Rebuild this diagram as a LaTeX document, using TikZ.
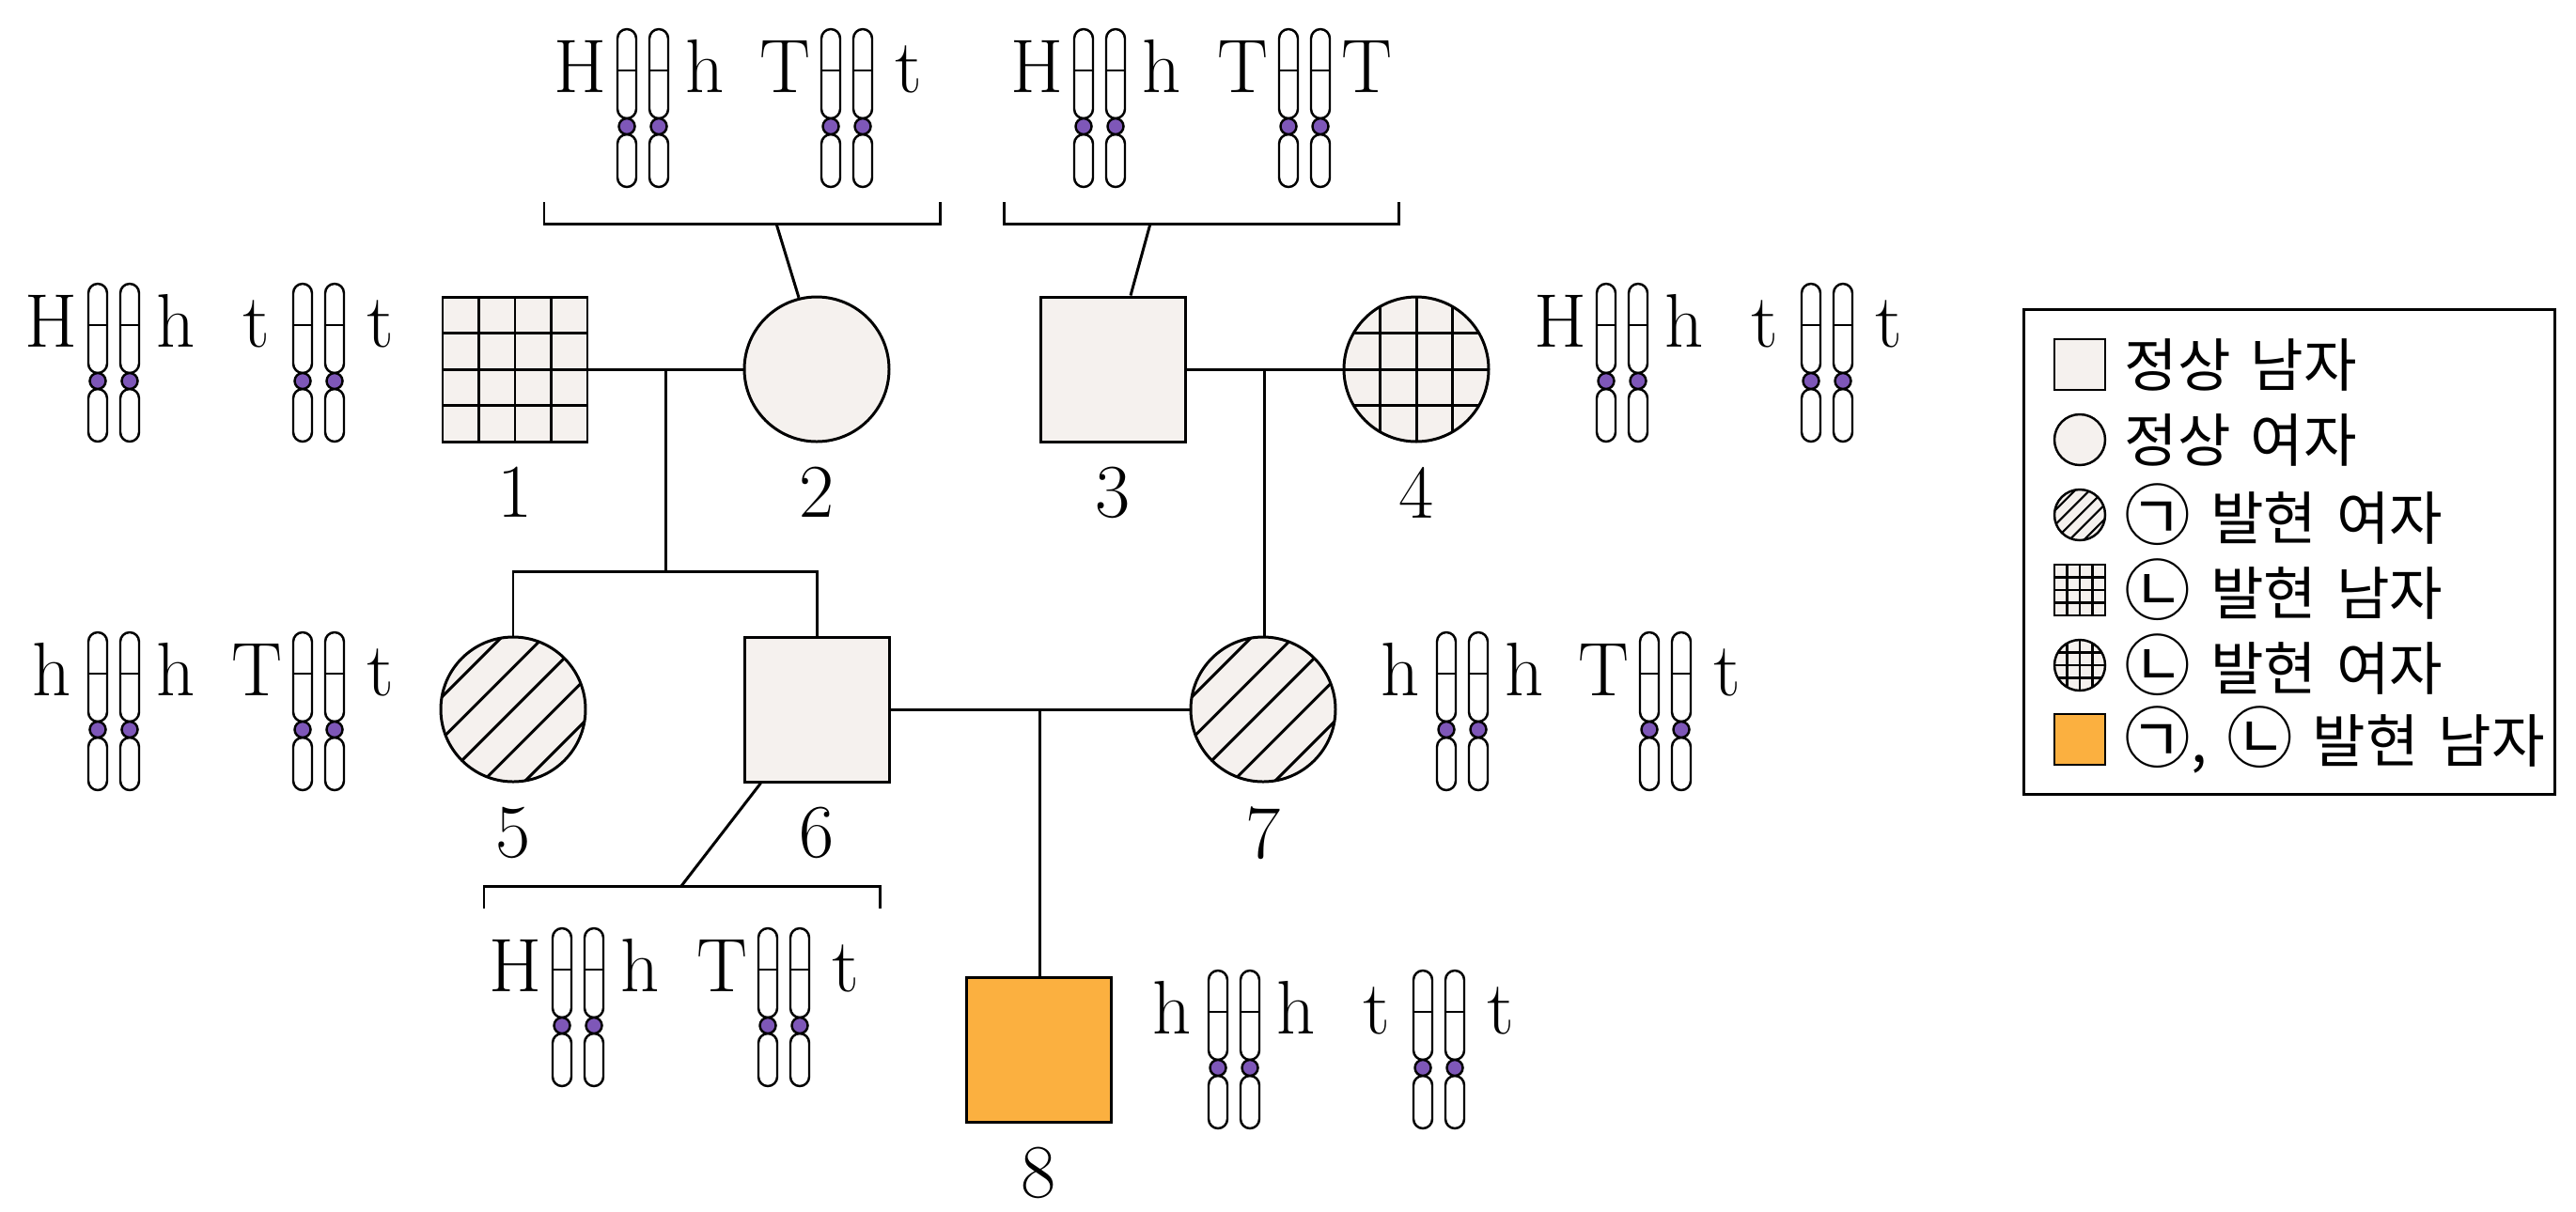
\documentclass[tikz,border=0pt]{standalone}
\usepackage{xcolor}
\usepackage{amsmath}
\usepackage{graphicx}
\usepackage{fontspec}
\usepackage{tikz}
\usetikzlibrary{positioning, calc}
\newfontfamily\kofont[WordSpace=1.5]{Noto Sans CJK KR}

\begin{document}
\begin{tikzpicture}[
        every node/.style={font=\fontsize{23}{27}\selectfont},
        line/.style={line width=0.85pt},
        person/.style={draw, line width=0.85pt, fill=shapefill, inner sep=0pt},
        male/.style={person, rectangle, minimum size=1.54cm},
        female/.style={person, circle, minimum size=1.54cm},
        chromo/.style={draw, line width=0.7pt, fill=white},
        allele/.style={inner sep=0pt, anchor=base},
        label/.style={inner sep=0pt},
        keytext/.style={inner sep=0pt, anchor=west, font=\kofont\fontsize{17.5}{21}\selectfont}
    ]
        \definecolor{shapefill}{HTML}{F5F1EE}
        \definecolor{nodeorange}{HTML}{FBB040}
        \definecolor{centpurple}{HTML}{7E57B8}
        \useasboundingbox (0,0) rectangle (27.41,-12.89);

        \node[male] (S1) at (5.48,-3.93) {};
        \node[female] (C2) at (8.69,-3.93) {};
        \node[male] (S3) at (11.84,-3.93) {};
        \node[female] (C4) at (15.07,-3.93) {};
        \node[female] (C5) at (5.46,-7.55) {};
        \node[male] (S6) at (8.69,-7.55) {};
        \node[female] (C7) at (13.44,-7.55) {};
        \node[male, fill=nodeorange] (S8) at (11.05,-11.17) {};

        \begin{scope}
            \clip (S1.south west) rectangle (S1.north east);
            \foreach \k in {-1,0,1} {
                \draw[line] ($(S1.center)+(\k*0.385,-0.77)$) -- ++(0,1.54);
                \draw[line] ($(S1.center)+(-0.77,\k*0.385)$) -- ++(1.54,0);
            }
        \end{scope}
        \begin{scope}
            \clip (C4) circle (0.77);
            \foreach \k in {-1,0,1} {
                \draw[line] ($(C4.center)+(\k*0.385,-0.77)$) -- ++(0,1.54);
                \draw[line] ($(C4.center)+(-0.77,\k*0.385)$) -- ++(1.54,0);
            }
        \end{scope}
        \foreach \nd in {C5, C7} {
            \begin{scope}
                \clip (\nd) circle (0.77);
                \foreach \k in {-2,...,2}
                    \draw[line] ($(\nd.center)+(-0.77,-0.77+\k*0.445)$) -- ++(1.54,1.54);
            \end{scope}
        }

        \node[label, below=0.25cm of S1] (n1) {1};
        \node[label, below=0.25cm of C2] (n2) {2};
        \node[label, below=0.25cm of S3] (n3) {3};
        \node[label, below=0.25cm of C4] (n4) {4};
        \node[label, below=0.25cm of C5] (n5) {5};
        \node[label, below=0.25cm of S6] (n6) {6};
        \node[label, below=0.25cm of C7] (n7) {7};
        \node[label, below=0.25cm of S8] (n8) {8};

        \draw[line] (S1) -- (C2);
        \draw[line] (S3) -- (C4);
        \draw[line] (S6) -- (C7);
        \coordinate (m12) at ($(S1.east)!0.5!(C2.west)$);
        \coordinate[below=2.15cm of m12] (sib);
        \draw[line] (m12) -- (sib);
        \draw[line] (C5.north) |- (sib) -| (S6.north);
        \coordinate (m34) at ($(S3.east)!0.5!(C4.west)$);
        \draw[line] (m34) -- (m34 |- C7.north);
        \coordinate (m67) at ($(S6.east)!0.5!(C7.west)$);
        \draw[line] (m67) -- (m67 |- S8.north);

        \draw[line] (5.79,-2.15) -- (5.79,-2.38) -- (10.00,-2.38) -- (10.00,-2.15);
        \draw[line] (10.68,-2.15) -- (10.68,-2.38) -- (14.88,-2.38) -- (14.88,-2.15);
        \draw[line] (5.15,-9.67) -- (5.15,-9.43) -- (9.36,-9.43) -- (9.36,-9.67);
        \coordinate (bA) at (8.26,-2.38);
        \coordinate (bB) at (12.24,-2.38);
        \coordinate (bG) at (7.25,-9.43);
        \draw[line] (bA) -- (C2.104);
        \draw[line] (bB) -- ($(S3.north)+(0.19,0)$);
        \draw[line] (bG) -- ($(S6.south west)+(0.19,0)$);

        \foreach \g/\xa/\xb/\yt/\la/\lb/\lc/\ld in {
                A/6.84/9.01/-0.31/H/h/T/t,
                B/11.70/13.88/-0.31/H/h/T/T,
                C/1.21/3.39/-3.02/H/h/t/t,
                D/17.26/19.44/-3.02/H/h/t/t,
                E/1.21/3.39/-6.73/h/h/T/t,
                F/15.56/17.72/-6.73/h/h/T/t,
                G/6.15/8.34/-9.88/H/h/T/t,
                H/13.13/15.31/-10.33/h/h/t/t} {
            \foreach \px in {\xa,\xb} {
                \foreach \dx in {-0.17,0.17} {
                    \draw[chromo, rounded corners=0.1cm] (\px+\dx-0.1,\yt) rectangle (\px+\dx+0.1,\yt-0.95);
                    \draw[line width=0.6pt] (\px+\dx-0.1,\yt-0.44) -- (\px+\dx+0.1,\yt-0.44);
                    \draw[chromo, rounded corners=0.1cm] (\px+\dx-0.1,\yt-1.12) rectangle (\px+\dx+0.1,\yt-1.68);
                    \draw[line width=0.7pt, fill=centpurple] (\px+\dx,\yt-1.035) circle (0.085);
                }
            }
            \node[allele] (\g1) at (\xa-0.66,\yt-0.67) {\la};
            \node[allele] (\g2) at (\xa+0.66,\yt-0.67) {\lb};
            \node[allele] (\g3) at (\xb-0.66,\yt-0.67) {\lc};
            \node[allele] (\g4) at (\xb+0.66,\yt-0.67) {\ld};
        }

        \node[draw, line width=0.85pt, minimum width=5.65cm, minimum height=5.16cm] (key) at (24.355,-5.87) {};
        \node[male, minimum size=0.54cm, line width=0.7pt] (K1) at (22.13,-3.88) {};
        \node[female, minimum size=0.54cm, line width=0.7pt] (K2) at (22.13,-4.68) {};
        \node[female, minimum size=0.54cm, line width=0.7pt] (K3) at (22.13,-5.48) {};
        \node[male, minimum size=0.54cm, line width=0.7pt] (K4) at (22.13,-6.28) {};
        \node[female, minimum size=0.54cm, line width=0.7pt] (K5) at (22.13,-7.08) {};
        \node[male, minimum size=0.54cm, line width=0.7pt, fill=nodeorange] (K6) at (22.13,-7.87) {};
        \begin{scope}
            \clip (K4.south west) rectangle (K4.north east);
            \foreach \k in {-1,0,1} {
                \draw[line width=0.6pt] ($(K4.center)+(\k*0.135,-0.27)$) -- ++(0,0.54);
                \draw[line width=0.6pt] ($(K4.center)+(-0.27,\k*0.135)$) -- ++(0.54,0);
            }
        \end{scope}
        \begin{scope}
            \clip (K5) circle (0.27);
            \foreach \k in {-1,0,1} {
                \draw[line width=0.6pt] ($(K5.center)+(\k*0.135,-0.27)$) -- ++(0,0.54);
                \draw[line width=0.6pt] ($(K5.center)+(-0.27,\k*0.135)$) -- ++(0.54,0);
            }
        \end{scope}
        \begin{scope}
            \clip (K3) circle (0.27);
            \foreach \k in {-2,...,2}
                \draw[line width=0.6pt] ($(K3.center)+(-0.27,-0.27+\k*0.156)$) -- ++(0.54,0.54);
        \end{scope}
        \node[keytext, right=0.19cm of K1] (T1) {정상 남자};
        \node[keytext, right=0.19cm of K2] (T2) {정상 여자};
        \node[keytext, right=0.19cm of K3] (T3) {\scalebox{1.15}{㉠} 발현 여자};
        \node[keytext, right=0.19cm of K4] (T4) {\scalebox{1.15}{㉡} 발현 남자};
        \node[keytext, right=0.19cm of K5] (T5) {\scalebox{1.15}{㉡} 발현 여자};
        \node[keytext, right=0.19cm of K6] (T6) {\scalebox{1.15}{㉠}, \scalebox{1.15}{㉡} 발현 남자};
    \end{tikzpicture}
\end{document}
